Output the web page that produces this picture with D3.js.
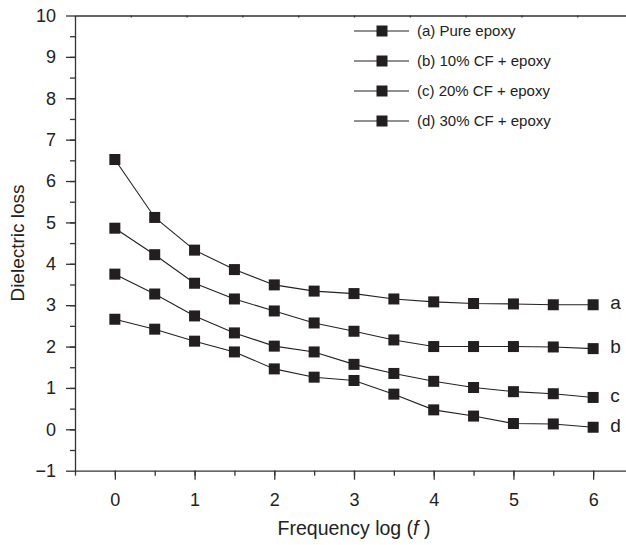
<!DOCTYPE html>
<html>
<head>
<meta charset="utf-8">
<script src="https://cdn.jsdelivr.net/npm/d3@7"></script>
<style>
  body { margin: 0; background: #fff; }
  svg { display: block; font-family: "Liberation Sans", Arial, sans-serif; }
  .axis path, .axis line { stroke: #333; stroke-width: 1.3; }
  .axis text { font-size: 18px; fill: #222; }
</style>
</head>
<body>
<svg class="chart" width="626" height="545"></svg>
<script>
const freqs = [0, 0.5, 1, 1.5, 2, 2.5, 3, 3.5, 4, 4.5, 5, 5.5, 6];
const pureEpoxy = [6.52, 5.12, 4.33, 3.86, 3.49, 3.34, 3.28, 3.15, 3.08, 3.04, 3.03, 3.01, 3.01];
const cf10 = [4.86, 4.22, 3.53, 3.15, 2.86, 2.57, 2.37, 2.16, 2.00, 2.00, 2.00, 1.99, 1.95];
const cf20 = [3.75, 3.27, 2.74, 2.33, 2.01, 1.87, 1.57, 1.35, 1.16, 1.01, 0.91, 0.86, 0.77];
const cf30 = [2.66, 2.42, 2.13, 1.87, 1.46, 1.26, 1.18, 0.85, 0.47, 0.32, 0.14, 0.13, 0.05];
const legendNames = ["(a) Pure epoxy", "(b) 10% CF + epoxy", "(c) 20% CF + epoxy", "(d) 30% CF + epoxy"];
const endLabels = ["a", "b", "c", "d"];
const xTicks = [0, 1, 2, 3, 4, 5, 6];
const yTicks = [-1, 0, 1, 2, 3, 4, 5, 6, 7, 8, 9, 10];

const series = [pureEpoxy, cf10, cf20, cf30].map((vals, i) => ({
  name: legendNames[i],
  tag: endLabels[i],
  points: freqs.map((f, j) => ({ f: f, v: vals[j] }))
}));

const svg = d3.select("svg.chart");

const x = d3.scaleLinear().domain([-0.5, 6.5]).range([75, 633]);
const y = d3.scaleLinear().domain([-1, 10]).range([470.7, 15.5]);

// minor ticks first (no labels)
svg.append("g")
  .attr("class", "axis")
  .attr("transform", "translate(0," + y(-1) + ")")
  .call(d3.axisBottom(x).tickValues(d3.range(-0.5, 6.6, 0.5)).tickSize(5).tickFormat("").tickSizeOuter(0));

svg.append("g")
  .attr("class", "axis")
  .attr("transform", "translate(" + x(-0.5) + ",0)")
  .call(d3.axisLeft(y).tickValues(d3.range(-0.5, 10, 0.5)).tickSize(5).tickFormat("").tickSizeOuter(0));

// major ticks
svg.append("g")
  .attr("class", "axis")
  .attr("transform", "translate(0," + y(-1) + ")")
  .call(d3.axisBottom(x).tickValues(xTicks).tickSize(9).tickPadding(14).tickSizeOuter(0)
    .tickFormat(d3.format("d")))
  .call(g => g.select(".domain").remove());

svg.append("g")
  .attr("class", "axis")
  .attr("transform", "translate(" + x(-0.5) + ",0)")
  .call(d3.axisLeft(y).tickValues(yTicks).tickSize(9).tickPadding(10).tickSizeOuter(0)
    .tickFormat(d => d < 0 ? "\u2212" + Math.abs(d) : d))
  .call(g => g.select(".domain").remove());

// top frame with its own small ticks
const xTop = d3.scaleLinear().domain([0, 10]).range([75, 633]);
svg.append("g")
  .attr("class", "axis")
  .attr("transform", "translate(0," + y(10) + ")")
  .call(d3.axisBottom(xTop).ticks(10).tickSize(2).tickFormat("").tickSizeOuter(0));

// lines and markers
const line = d3.line().x(d => x(d.f)).y(d => y(d.v));

series.forEach(s => {
  svg.append("path")
    .datum(s.points)
    .attr("fill", "none")
    .attr("stroke", "#222")
    .attr("stroke-width", 1.1)
    .attr("d", line);

  svg.selectAll(null)
    .data(s.points)
    .enter().append("rect")
    .attr("x", d => x(d.f) - 5.5)
    .attr("y", d => y(d.v) - 5.5)
    .attr("width", 11)
    .attr("height", 11)
    .attr("fill", "#231f20");

  const last = s.points[s.points.length - 1];
  svg.append("text")
    .attr("x", x(last.f) + 17)
    .attr("y", y(last.v) - 2)
    .attr("dy", "0.35em")
    .style("font-size", "19px")
    .style("fill", "#222")
    .text(s.tag);
});

// legend
const legend = svg.append("g").attr("transform", "translate(354,31)");
series.forEach((s, i) => {
  const row = legend.append("g").attr("transform", "translate(0," + i * 30 + ")");
  row.append("line").attr("x1", 0).attr("x2", 55).attr("stroke", "#222").attr("stroke-width", 1.1);
  row.append("rect").attr("x", 22.5).attr("y", -5.5).attr("width", 11).attr("height", 11).attr("fill", "#231f20");
  row.append("text")
    .attr("x", 63)
    .attr("dy", "0.35em")
    .style("font-size", "15px")
    .style("fill", "#222")
    .text(s.name);
});

// axis titles
svg.append("text")
  .attr("transform", "translate(24,243) rotate(-90)")
  .style("text-anchor", "middle")
  .style("font-size", "19px")
  .style("fill", "#222")
  .text("Dielectric loss");

const xt = svg.append("text")
  .attr("x", x(3))
  .attr("y", 535)
  .style("text-anchor", "middle")
  .style("font-size", "19.5px")
  .style("fill", "#222");
xt.append("tspan").text("Frequency log (");
xt.append("tspan").style("font-style", "italic").text("f");
xt.append("tspan").text(" )");
</script>
</body>
</html>
